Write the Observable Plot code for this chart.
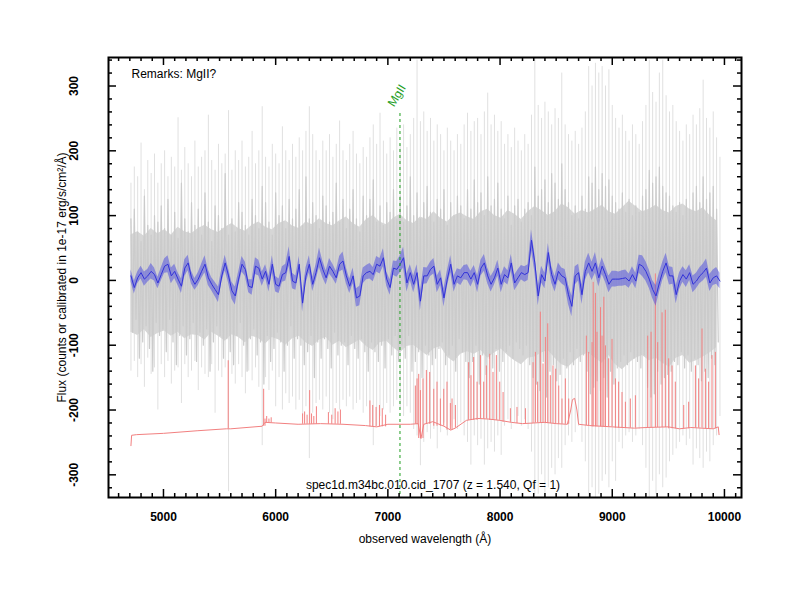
<!DOCTYPE html>
<html><head><meta charset="utf-8">
<script src="https://cdn.jsdelivr.net/npm/d3@7"></script>
<script src="https://cdn.jsdelivr.net/npm/@observablehq/plot@0.6"></script>
<style>body{margin:0;background:#fff}</style>
</head><body><div id="chart"></div>
<script>
// ---- data ----
const WAVE_START = 4710, WAVE_STEP = 30;     // grid of smoothed flux / spike bins (Å)
const RAW_START = 4710, RAW_STEP = 15;       // grid of raw flux samples (Å)
const CORE_START = 4710, CORE_STEP = 60;     // grid of the dense gray core (Å)

// raw flux (gray, noisy)
const rawFlux = [
95,-80,110,-60,75,-120,60,-95,130,-70,85,-105,70,-140,100,-65,90,-85,115,-75,
80,-110,125,-60,70,-95,105,-130,65,-85,150,-70,95,-115,75,-90,120,-65,85,-125,
110,-80,70,-100,135,-75,90,-140,60,-95,115,-70,100,-85,80,-120,165,-90,70,-110,
95,-130,75,-85,120,-65,105,-100,85,-140,70,-90,125,-75,100,-115,80,-95,145,-160,
120,-85,90,-125,70,-105,135,-80,100,-95,115,-140,80,-100,125,-70,95,-120,110,-90,
140,-100,85,-130,160,-110,95,-85,120,-150,100,-95,80,-120,130,-90,115,-105,90,-135,
105,-80,150,-115,90,-100,125,-95,80,-130,110,-85,140,-105,95,-120,75,-90,130,-110,
100,-140,125,-95,155,-110,90,-125,115,-100,85,-135,120,-90,105,-115,140,-85,95,-125,
130,-100,90,-120,115,-85,160,-140,100,-125,135,-110,95,-150,120,-100,145,-115,105,-130,
90,-120,125,-105,110,-95,140,-130,85,-115,120,-100,100,-140,130,-90,115,-110,95,-125,
140,-150,110,-125,155,-100,120,-160,135,-115,100,-145,160,-120,115,-135,125,-105,150,-140,
110,-125,95,-110,130,-100,85,-120,115,-95,125,-105,90,-115,110,-100,120,-130,100,-150,
175,-160,130,-170,140,-125,155,-180,120,-140,165,-130,150,-155,125,-145,180,-120,140,-135,
120,-110,100,-130,115,-105,95,-125,130,-115,110,-140,160,-175,150,-165,175,-155,140,-170,
165,-150,145,-180,155,-140,130,-160,120,-135,110,-125,135,-115,105,-130,125,-110,100,-120,
115,-125,105,-135,130,-115,140,-165,170,-180,150,-175,160,-140,175,-160,145,-150,135,-145,
130,-140,115,-125,105,-130,120,-110,100,-135,125,-115,110,-140,135,-120,145,-130,120,-155,
160,-140,125,-150,135,-120,145,-130,110,-95];
// dense part of the raw flux (gray core envelope)
const coreHi = [70,75,68,80,72,78,70,82,75,72,80,85,78,74,82,88,80,76,85,90,82,78,88,92,84,80,90,86,95,88,
84,92,98,88,82,94,100,90,86,96,102,92,88,98,94,106,96,90,100,104,98,94,106,110,100,96,108,102,94,106,
114,108,100,106,118,112,102,108,104,110,116,106,102,112,122,114,106,110,116,108,104,114,118,110,106,112,100,92];
const coreLo = [-80,-85,-76,-88,-82,-78,-86,-80,-90,-84,-85,-92,-80,-86,-94,-84,-88,-96,-86,-90,
-98,-88,-92,-100,-90,-86,-96,-102,-92,-88,-100,-94,-104,-98,-92,-102,-108,-96,-94,-104,
-112,-102,-100,-108,-116,-106,-102,-118,-126,-114,-110,-114,-108,-120,-112,-106,-116,-124,-130,-120,
-118,-112,-108,-120,-130,-134,-124,-116,-112,-120,-128,-116,-130,-138,-128,-120,-116,-124,-120,-128,
-134,-120,-116,-128,-124,-118,-112,-104];

// smoothed flux (blue)
const blueFlux = [7,-11,4,12,2,7,14,9,-4,9,22,25,7,14,2,-9,19,27,4,-6,2,14,25,4,-6,-14,-22,7,27,7,-16,-24,2,25,17,-9,-11,22,19,2,14,-6,25,-6,
-9,9,12,37,-1,-4,25,-35,7,25,-6,12,35,17,4,22,14,4,25,30,7,-9,7,-27,-24,7,12,14,9,25,22,35,2,-11,19,17,25,35,-4,12,-6,12,-32,7,
7,17,22,-6,4,-27,2,25,-6,7,4,12,12,2,12,-6,19,27,7,-6,4,19,-6,9,4,27,-4,4,12,9,12,62,27,-24,9,-1,43,9,-6,14,7,4,-22,-40,
7,12,-22,14,27,14,27,4,22,9,-6,2,2,2,3,4,-1,9,-1,25,22,14,2,-14,-24,-4,14,27,7,7,-22,-1,9,2,12,-6,-1,7,12,19,-4,4,7,-1];
// smoothed flux uncertainty (half width of blue band)
const blueErr = [9,10,9,10,11,10,12,10,9,10,11,13,12,11,10,11,13,12,10,9,10,11,13,12,10,11,12,10,12,11,13,14,11,12,11,10,12,13,12,11,10,12,13,12,
11,12,13,15,12,11,12,14,12,13,11,12,15,13,11,12,11,10,12,14,12,11,12,14,15,12,11,12,11,12,12,14,11,12,11,12,13,16,14,12,13,12,15,13,
12,11,12,13,12,14,12,13,12,11,12,11,12,12,11,13,12,13,12,12,11,12,13,12,11,13,12,12,11,12,12,16,14,15,13,12,14,13,12,13,12,13,15,16,
14,13,15,14,15,14,16,14,13,12,13,12,12,11,12,12,11,12,12,14,16,15,14,14,16,15,14,15,14,13,14,13,12,13,12,13,12,12,13,14,13,12,13,12];
// raw flux extremes per bin (light gray spikes)
const grayHi = [150,175,160,212,140,185,165,195,150,180,200,160,190,175,251,170,205,180,160,215,175,190,200,255,185,170,210,180,195,262,
170,200,185,215,175,190,230,180,200,268,190,175,210,195,180,237,200,185,210,190,220,200,230,268,225,200,185,215,200,225,
190,210,246,200,185,210,230,195,180,205,190,220,240,210,258,215,195,220,200,235,210,240,205,225,250,340,245,260,230,250,
215,240,225,200,235,215,200,225,210,240,258,230,245,250,225,260,289,240,255,230,245,210,225,205,235,215,200,225,210,255,
345,270,250,275,260,240,265,250,320,240,225,215,230,210,235,260,330,300,335,320,330,300,325,270,250,235,255,230,215,240,
225,210,245,270,340,290,275,320,340,285,260,270,245,230,215,240,225,255,240,265,309,250,235,260,220,190];
const grayLo = [-140,-125,-150,-130,-165,-120,-145,-135,-200,-130,-150,-125,-160,-140,-135,-190,-130,-150,-140,-125,
-170,-135,-145,-150,-130,-205,-140,-150,-135,-326,-145,-160,-130,-150,-175,-140,-155,-135,-165,-255,-150,-170,-140,-195,-150,
-200,-175,-190,-180,-200,-185,-210,-195,-275,-205,-190,-185,-200,-180,-205,-215,-190,-200,-185,-195,-180,-200,-190,-185,-205,
-195,-220,-255,-225,-210,-200,-190,-205,-195,-185,-200,-210,-195,-205,-230,-240,-286,-250,-235,-245,-230,-260,-235,-220,-240,
-225,-215,-230,-220,-240,-250,-285,-240,-255,-245,-285,-260,-250,-265,-240,-270,-225,-215,-230,-220,-210,-225,-215,-230,-265,
-330,-330,-300,-330,-320,-290,-300,-275,-290,-255,-240,-250,-235,-225,-250,-280,-335,-320,-335,-330,-310,-300,-320,-280,-310,
-250,-260,-240,-235,-250,-240,-230,-255,-290,-335,-310,-330,-300,-320,-305,-280,-270,-260,-250,-240,-255,-245,-285,-260,-275,
-290,-265,-280,-255,-240,-210];
// sky / error spectrum (red): continuum nodes
const skyBaseWave = [4710,4716,4760,5000,5300,5560,5600,5880,5905,6000,6200,6400,6600,6800,6900,7000,7200,7270,7295,7320,7400,7500,7560,7600,7700,7800,7900,8000,8100,8200,8300,8400,8500,8600,8630,8645,8665,8685,8700,8800,9000,9200,9300,9500,9600,9700,9800,9900,9945,9952];
const skyBaseFlux = [-255,-239,-238,-236,-232,-229,-229,-225,-219,-220,-222,-221,-222,-224,-226,-222,-222,-221,-244,-222,-218,-225,-231,-228,-216,-213,-214,-216,-219,-221,-220,-219,-221,-222,-200,-184,-182,-200,-222,-224,-226,-228,-227,-226,-229,-227,-228,-229,-226,-238];
// sky emission lines (red spikes)
const skyLineWave = [5577,5893,5905,5920,5940,5960,6240,6258,6280,6303,6320,6340,6363,6470,6500,6530,6555,6577,
6840,6865,6895,6925,6950,6980,7245,7260,7275,7290,7313,7343,7373,7409,7438,7468,7498,7527,7557,7572,7602,
7720,7741,7765,7795,7825,7854,7878,7908,7937,7967,7997,8027,8092,8151,8226,8294,8315,8335,8359,8383,8404,8425,
8448,8472,8496,8523,8552,8582,8612,8769,8790,8820,8830,8850,8864,8895,8909,8925,8939,8968,8998,9028,9057,9087,
9117,9161,9206,9316,9346,9384,9405,9444,9473,9503,9533,9562,9637,9681,9741,9770,9800,9830,9859,9889,9919];
const skyLinePeak = [-124,-168,-214,-210,-214,-212,-206,-203,-208,-170,-206,-210,-195,-204,-208,-198,-203,-200,
-186,-193,-196,-193,-198,-208,-163,-152,-145,-170,-152,-139,-142,-168,-157,-183,-168,-157,-190,-183,-193,
-127,-147,-119,-157,-116,-157,-132,-114,-142,-116,-157,-173,-198,-196,-198,-127,-111,-157,-49,-129,-88,-67,
-147,-132,-137,-163,-183,-152,-183,-86,-111,-96,-3,-20,-80,-42,-86,-26,-101,-121,-91,-152,-157,-173,
-188,-183,-178,-86,-80,10,-96,-50,-46,-121,-132,-157,-193,-188,-132,-152,-75,-137,-157,-116,-111];
// emission line marker
const lineNames = ["MgII"];
const lineWaves = [7108];
// axis ticks
const xTickValues = [5000,6000,7000,8000,9000,10000];
const yTickValues = [-300,-200,-100,0,100,200,300];
const remark = "Remarks: MgII?";
const caption = "spec1d.m34bc.010.cid_1707 (z = 1.540, Qf = 1)";
const xTitle = "observed wavelength (Å)";
const yTitle = "Flux (counts or calibrated in 1e-17 erg/s/cm²/Å)";

// ---- tables ----
const nFine = Math.min(blueFlux.length, blueErr.length, grayHi.length, grayLo.length);
const fine = d3.range(nFine).map(i => ({
  w: WAVE_START + WAVE_STEP * i, f: blueFlux[i], e: blueErr[i], hi: grayHi[i], lo: grayLo[i]
}));
const raw = rawFlux.map((f, i) => ({w: RAW_START + RAW_STEP * i, f}));
const nCore = Math.min(coreHi.length, coreLo.length);
const core = d3.range(nCore).map(i => ({w: CORE_START + CORE_STEP * i, hi: coreHi[i], lo: coreLo[i]}));
const skyBase = skyBaseWave.map((w, i) => ({w, f: skyBaseFlux[i]}));
const footAt = w => {
  const j = Math.max(1, Math.min(skyBaseWave.length - 1, d3.bisectLeft(skyBaseWave, w)));
  return Math.min(skyBaseFlux[j - 1], skyBaseFlux[j]);
};
const skyLines = skyLineWave.map((w, i) => ({w, peak: skyLinePeak[i], foot: footAt(w)})).filter(d => d.peak != null);
const lines = lineWaves.map((w, i) => ({w, name: lineNames[i]}));

const FH = 440, FW = 633;
const xMinor = d3.range(4600, 10151, 100).filter(v => v % 1000 !== 0);
const yMinor = d3.range(-320, 341, 20).filter(v => v % 100 !== 0);

const font = "'Liberation Sans', Arial, Helvetica, sans-serif";
const green = "#1f9e1f";
const red = "#f28080";

const chart = Plot.plot({
  width: 800, height: 600,
  marginLeft: 108, marginRight: 59, marginTop: 57, marginBottom: 103,
  x: {domain: [4510, 10152], axis: null},
  y: {domain: [-335, 344], axis: null},
  style: {fontFamily: font, fontSize: "12px", background: "white", color: "black"},
  marks: [
    Plot.ruleX(fine, {x: "w", y1: "lo", y2: "hi", stroke: "#e0e0e0", strokeWidth: 1, clip: true}),
    Plot.areaY(core, {x: "w", y1: "lo", y2: "hi", fill: "#d6d6d6", clip: true}),
    Plot.line(raw, {x: "w", y: "f", stroke: "#cbcbcb", strokeWidth: 1.2, clip: true}),
    Plot.ruleX(skyLines, {x: "w", y1: "foot", y2: "peak", stroke: red, strokeWidth: 1, clip: true}),
    Plot.line(skyBase, {x: "w", y: "f", stroke: red, strokeWidth: 1, clip: true}),
    Plot.areaY(fine, {x: "w", y1: d => d.f - d.e, y2: d => d.f + d.e, fill: "#4848e0", fillOpacity: 0.5, clip: true}),
    Plot.line(fine, {x: "w", y: "f", stroke: "#3232d8", strokeWidth: 1, clip: true}),
    Plot.ruleX(lines, {x: "w", insetTop: 56, stroke: green, strokeWidth: 1, strokeDasharray: "3,3"}),
    Plot.text(lines, {x: "w", text: "name", frameAnchor: "top", dx: -6, dy: 50, rotate: -58, textAnchor: "start", lineAnchor: "bottom", fill: green, fontSize: 12}),
    // ticks (inward, all sides)
    Plot.ruleX(xTickValues, {x: d => d, insetTop: FH - 8, stroke: "black", strokeWidth: 1.5}),
    Plot.ruleX(xTickValues, {x: d => d, insetBottom: FH - 8, stroke: "black", strokeWidth: 1.5}),
    Plot.ruleX(xMinor, {x: d => d, insetTop: FH - 4, stroke: "black", strokeWidth: 1.5}),
    Plot.ruleX(xMinor, {x: d => d, insetBottom: FH - 4, stroke: "black", strokeWidth: 1.5}),
    Plot.ruleY(yTickValues, {y: d => d, insetRight: FW - 8, stroke: "black", strokeWidth: 1.5}),
    Plot.ruleY(yTickValues, {y: d => d, insetLeft: FW - 8, stroke: "black", strokeWidth: 1.5}),
    Plot.ruleY(yMinor, {y: d => d, insetRight: FW - 4, stroke: "black", strokeWidth: 1.5}),
    Plot.ruleY(yMinor, {y: d => d, insetLeft: FW - 4, stroke: "black", strokeWidth: 1.5}),
    Plot.frame({stroke: "black", strokeWidth: 2}),
    // tick labels
    Plot.text(xTickValues, {x: d => d, text: d => String(d), frameAnchor: "bottom", dy: 20, lineAnchor: "middle", fontWeight: "bold", fontSize: 12}),
    Plot.text(yTickValues, {y: d => d, text: d => String(d), frameAnchor: "left", dx: -34, rotate: -90, textAnchor: "middle", lineAnchor: "middle", fontWeight: "bold", fontSize: 12}),
    // titles and annotations
    Plot.text([xTitle], {text: d => d, frameAnchor: "bottom", dy: 42, lineAnchor: "middle", fontSize: 12}),
    Plot.text([yTitle], {text: d => d, frameAnchor: "left", dx: -46, rotate: -90, textAnchor: "middle", lineAnchor: "middle", fontSize: 12}),
    Plot.text([remark], {text: d => d, frameAnchor: "top-left", dx: 23, dy: 17, textAnchor: "start", lineAnchor: "middle", fontSize: 12}),
    Plot.text([caption], {text: d => d, frameAnchor: "bottom", dx: 8, dy: -12, lineAnchor: "middle", fontSize: 12})
  ]
});
document.getElementById("chart").appendChild(chart);
</script></body></html>
